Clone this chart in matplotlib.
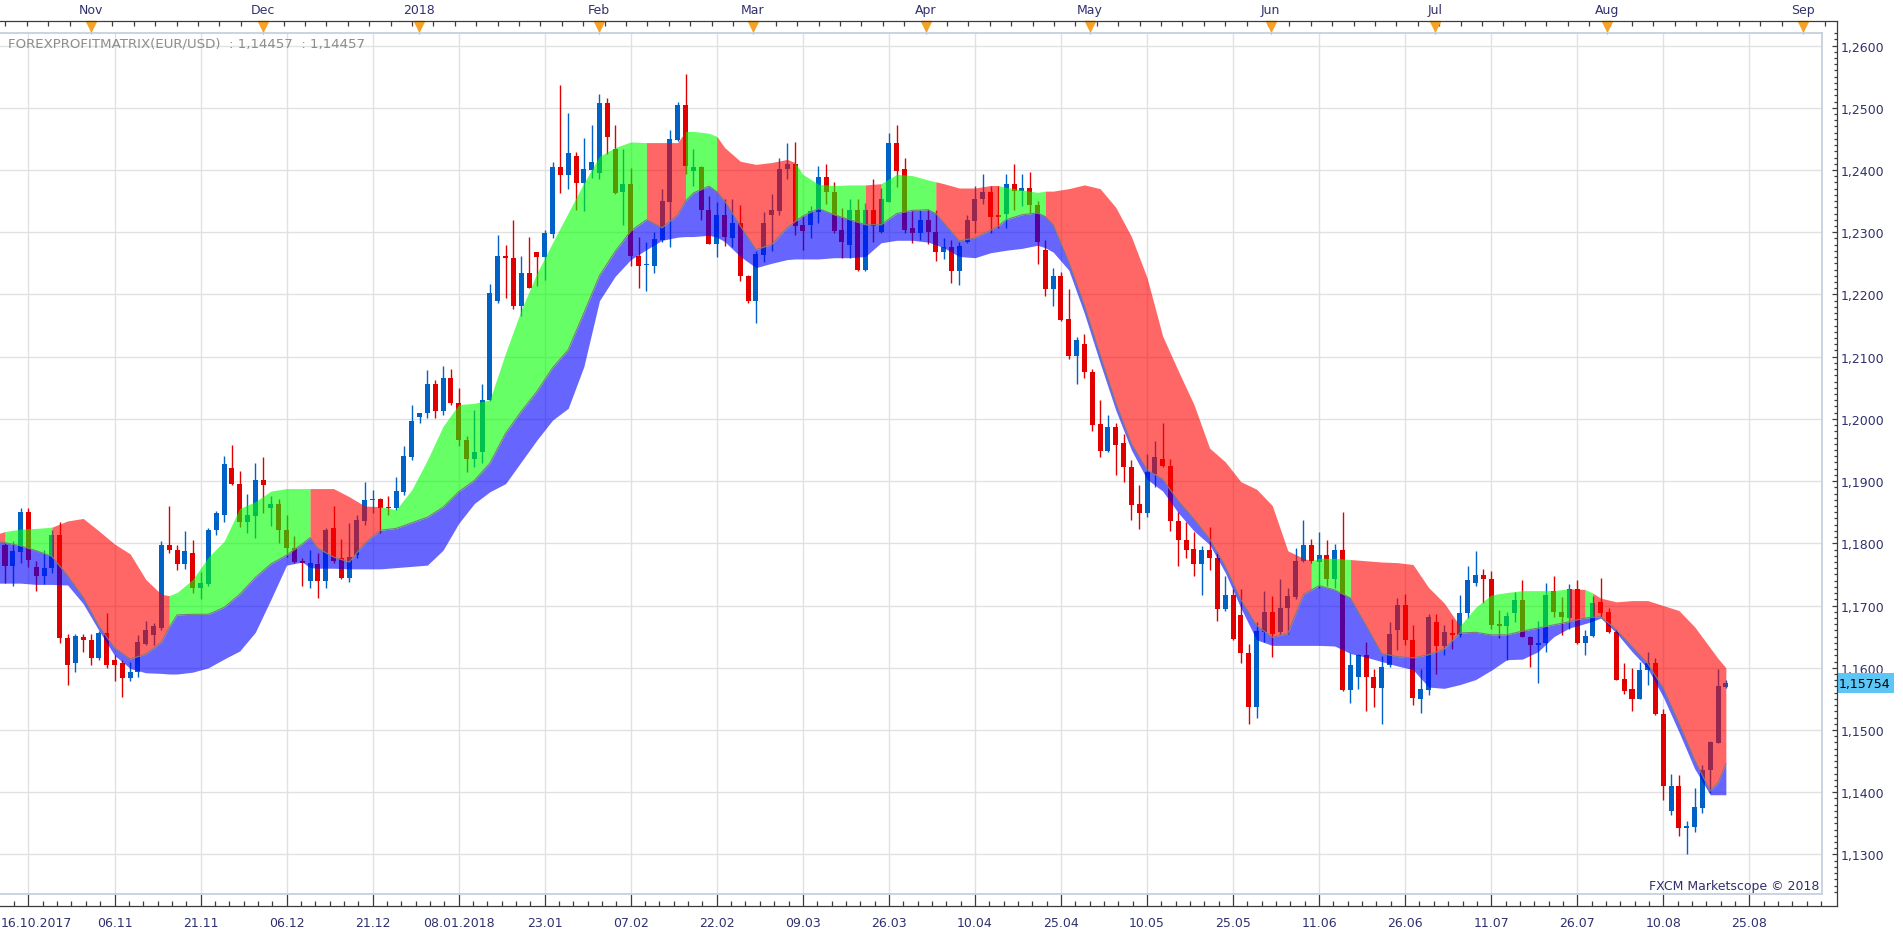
import numpy as np
import matplotlib
matplotlib.use("Agg")
import matplotlib.pyplot as plt
from matplotlib.ticker import MultipleLocator, FuncFormatter
from matplotlib.patches import Rectangle

plt.rcParams['font.family'] = ['DejaVu Sans']

# ------------------------------------------------------------------ data
# daily EUR/USD candles, bar 0 = 17.10.2017 ... bar 220 = 22.08.2018
opens = [
    1.1798, 1.1763, 1.1786, 1.1850, 1.1762, 1.1747, 1.1761, 1.1813, 1.1648, 1.1608,
    1.1650, 1.1645, 1.1616, 1.1656, 1.1613, 1.1607, 1.1583, 1.1593, 1.1639, 1.1653,
    1.1664, 1.1797, 1.1790, 1.1766, 1.1784, 1.1729, 1.1735, 1.1821, 1.1846, 1.1921,
    1.1896, 1.1835, 1.1844, 1.1902, 1.1857, 1.1863, 1.1822, 1.1793, 1.1772, 1.1739,
    1.1767, 1.1739, 1.1825, 1.1777, 1.1744, 1.1781, 1.1836, 1.1869, 1.1872, 1.1857,
    1.1856, 1.1883, 1.1939, 1.2003, 1.2009, 1.2056, 1.2012, 1.2065, 1.2025, 1.1966,
    1.1935, 1.1946, 1.2031, 1.2190, 1.2262, 1.2259, 1.2182, 1.2234, 1.2268, 1.2260,
    1.2297, 1.2405, 1.2392, 1.2423, 1.2379, 1.2400, 1.2395, 1.2507, 1.2434, 1.2364,
    1.2377, 1.2262, 1.2247, 1.2245, 1.2288, 1.2348, 1.2448, 1.2505, 1.2398, 1.2405,
    1.2336, 1.2281, 1.2328, 1.2291, 1.2315, 1.2230, 1.2190, 1.2264, 1.2327, 1.2334,
    1.2401, 1.2410, 1.2311, 1.2311, 1.2332, 1.2388, 1.2365, 1.2303, 1.2279, 1.2335,
    1.2239, 1.2336, 1.2300, 1.2348, 1.2443, 1.2401, 1.2306, 1.2298, 1.2319, 1.2300,
    1.2268, 1.2277, 1.2237, 1.2284, 1.2318, 1.2354, 1.2365, 1.2327, 1.2330, 1.2378,
    1.2366, 1.2371, 1.2344, 1.2272, 1.2208, 1.2230, 1.2160, 1.2101, 1.2121, 1.2075,
    1.1992, 1.1948, 1.1987, 1.1962, 1.1922, 1.1863, 1.1849, 1.1912, 1.1936, 1.1925,
    1.1836, 1.1806, 1.1791, 1.1767, 1.1790, 1.1777, 1.1694, 1.1717, 1.1685, 1.1623,
    1.1537, 1.1658, 1.1690, 1.1657, 1.1696, 1.1714, 1.1772, 1.1797, 1.1770, 1.1781,
    1.1743, 1.1790, 1.1565, 1.1585, 1.1621, 1.1586, 1.1567, 1.1604, 1.1660, 1.1701,
    1.1645, 1.1550, 1.1565, 1.1674, 1.1635, 1.1656, 1.1653, 1.1688, 1.1737, 1.1749,
    1.1743, 1.1671, 1.1667, 1.1688, 1.1709, 1.1650, 1.1636, 1.1640, 1.1724, 1.1690,
    1.1680, 1.1726, 1.1640, 1.1651, 1.1705, 1.1690, 1.1657, 1.1582, 1.1566, 1.1550,
    1.1596, 1.1607, 1.1526, 1.1370, 1.1410, 1.1343, 1.1344, 1.1375, 1.1435, 1.1479,
    1.1569,
]
highs = [
    1.1801, 1.1804, 1.1856, 1.1856, 1.1771, 1.1790, 1.1822, 1.1835, 1.1655, 1.1655,
    1.1655, 1.1655, 1.1659, 1.1688, 1.1621, 1.1613, 1.1609, 1.1652, 1.1676, 1.1672,
    1.1804, 1.1860, 1.1798, 1.1820, 1.1806, 1.1754, 1.1824, 1.1852, 1.1941, 1.1958,
    1.1916, 1.1879, 1.1929, 1.1938, 1.1876, 1.1872, 1.1846, 1.1812, 1.1776, 1.1790,
    1.1784, 1.1825, 1.1860, 1.1807, 1.1833, 1.1846, 1.1898, 1.1886, 1.1873, 1.1876,
    1.1907, 1.1957, 1.2023, 1.2009, 1.2079, 1.2063, 1.2085, 1.2080, 1.2049, 1.1973,
    1.2015, 1.2056, 1.2216, 1.2295, 1.2280, 1.2320, 1.2262, 1.2293, 1.2268, 1.2303,
    1.2412, 1.2536, 1.2491, 1.2429, 1.2452, 1.2473, 1.2522, 1.2516, 1.2473, 1.2433,
    1.2403, 1.2293, 1.2284, 1.2300, 1.2370, 1.2464, 1.2509, 1.2554, 1.2433, 1.2406,
    1.2358, 1.2349, 1.2353, 1.2353, 1.2344, 1.2232, 1.2269, 1.2333, 1.2362, 1.2419,
    1.2443, 1.2445, 1.2326, 1.2342, 1.2406, 1.2410, 1.2381, 1.2339, 1.2353, 1.2353,
    1.2347, 1.2386, 1.2371, 1.2459, 1.2473, 1.2419, 1.2334, 1.2335, 1.2337, 1.2336,
    1.2290, 1.2287, 1.2285, 1.2328, 1.2374, 1.2394, 1.2375, 1.2374, 1.2393, 1.2410,
    1.2394, 1.2397, 1.2350, 1.2287, 1.2242, 1.2236, 1.2209, 1.2131, 1.2136, 1.2080,
    1.2030, 1.2007, 1.1993, 1.1976, 1.1934, 1.1894, 1.1944, 1.1965, 1.1993, 1.1936,
    1.1851, 1.1835, 1.1818, 1.1795, 1.1826, 1.1786, 1.1748, 1.1726, 1.1726, 1.1638,
    1.1674, 1.1723, 1.1716, 1.1742, 1.1729, 1.1793, 1.1837, 1.1807, 1.1818, 1.1805,
    1.1799, 1.1850, 1.1624, 1.1622, 1.1642, 1.1598, 1.1619, 1.1673, 1.1712, 1.1718,
    1.1669, 1.1598, 1.1687, 1.1687, 1.1669, 1.1679, 1.1717, 1.1764, 1.1788, 1.1758,
    1.1756, 1.1693, 1.1689, 1.1722, 1.1741, 1.1651, 1.1675, 1.1736, 1.1748, 1.1714,
    1.1735, 1.1741, 1.1661, 1.1716, 1.1744, 1.1696, 1.1663, 1.1607, 1.1599, 1.1609,
    1.1625, 1.1616, 1.1534, 1.1430, 1.1427, 1.1354, 1.1407, 1.1443, 1.1483, 1.1598,
    1.1580,
]
lows = [
    1.1737, 1.1731, 1.1769, 1.1762, 1.1724, 1.1734, 1.1753, 1.1640, 1.1573, 1.1593,
    1.1625, 1.1605, 1.1613, 1.1599, 1.1579, 1.1553, 1.1578, 1.1585, 1.1636, 1.1636,
    1.1660, 1.1785, 1.1757, 1.1759, 1.1721, 1.1711, 1.1731, 1.1813, 1.1835, 1.1894,
    1.1826, 1.1816, 1.1808, 1.1849, 1.1828, 1.1800, 1.1778, 1.1768, 1.1731, 1.1729,
    1.1712, 1.1729, 1.1769, 1.1742, 1.1738, 1.1776, 1.1829, 1.1848, 1.1816, 1.1846,
    1.1854, 1.1878, 1.1934, 1.1993, 1.2001, 1.2001, 1.2006, 1.2023, 1.1956, 1.1914,
    1.1922, 1.1929, 1.2028, 1.2186, 1.2195, 1.2177, 1.2165, 1.2211, 1.2213, 1.2223,
    1.2291, 1.2363, 1.2369, 1.2336, 1.2334, 1.2387, 1.2385, 1.2425, 1.2362, 1.2312,
    1.2245, 1.2211, 1.2205, 1.2234, 1.2285, 1.2276, 1.2446, 1.2393, 1.2374, 1.2320,
    1.2281, 1.2260, 1.2278, 1.2276, 1.2221, 1.2187, 1.2154, 1.2252, 1.2269, 1.2328,
    1.2386, 1.2296, 1.2272, 1.2290, 1.2314, 1.2346, 1.2299, 1.2259, 1.2259, 1.2238,
    1.2238, 1.2285, 1.2299, 1.2348, 1.2372, 1.2299, 1.2283, 1.2288, 1.2281, 1.2253,
    1.2257, 1.2218, 1.2215, 1.2283, 1.2299, 1.2346, 1.2299, 1.2306, 1.2307, 1.2335,
    1.2342, 1.2331, 1.2249, 1.2198, 1.2182, 1.2158, 1.2096, 1.2056, 1.2065, 1.1981,
    1.1938, 1.1947, 1.1910, 1.1898, 1.1838, 1.1823, 1.1842, 1.1890, 1.1923, 1.1820,
    1.1763, 1.1776, 1.1748, 1.1717, 1.1757, 1.1675, 1.1691, 1.1645, 1.1608, 1.1510,
    1.1520, 1.1641, 1.1618, 1.1655, 1.1655, 1.1710, 1.1770, 1.1769, 1.1728, 1.1732,
    1.1728, 1.1563, 1.1544, 1.1566, 1.1531, 1.1537, 1.1509, 1.1601, 1.1629, 1.1636,
    1.1540, 1.1527, 1.1557, 1.1590, 1.1620, 1.1630, 1.1649, 1.1680, 1.1732, 1.1704,
    1.1663, 1.1648, 1.1612, 1.1674, 1.1649, 1.1601, 1.1575, 1.1625, 1.1682, 1.1653,
    1.1663, 1.1639, 1.1620, 1.1650, 1.1681, 1.1656, 1.1580, 1.1558, 1.1530, 1.1550,
    1.1572, 1.1524, 1.1387, 1.1364, 1.1329, 1.1301, 1.1336, 1.1367, 1.1399, 1.1479,
    1.1567,
]
closes = [
    1.1763, 1.1787, 1.1850, 1.1774, 1.1747, 1.1761, 1.1813, 1.1648, 1.1604, 1.1651,
    1.1644, 1.1616, 1.1656, 1.1605, 1.1605, 1.1583, 1.1593, 1.1641, 1.1661, 1.1667,
    1.1797, 1.1789, 1.1766, 1.1787, 1.1729, 1.1736, 1.1822, 1.1848, 1.1928, 1.1895,
    1.1835, 1.1846, 1.1902, 1.1893, 1.1863, 1.1821, 1.1793, 1.1770, 1.1768, 1.1769,
    1.1739, 1.1822, 1.1771, 1.1744, 1.1778, 1.1837, 1.1870, 1.1872, 1.1856, 1.1856,
    1.1884, 1.1940, 1.1997, 1.2009, 1.2056, 1.2012, 1.2065, 1.2025, 1.1966, 1.1935,
    1.1946, 1.2031, 1.2202, 1.2262, 1.2258, 1.2182, 1.2234, 1.2211, 1.2260, 1.2298,
    1.2405, 1.2392, 1.2428, 1.2379, 1.2401, 1.2412, 1.2507, 1.2453, 1.2363, 1.2377,
    1.2261, 1.2245, 1.2248, 1.2289, 1.2350, 1.2449, 1.2505, 1.2407, 1.2405, 1.2336,
    1.2281, 1.2328, 1.2292, 1.2315, 1.2229, 1.2190, 1.2265, 1.2315, 1.2335, 1.2402,
    1.2410, 1.2310, 1.2302, 1.2334, 1.2388, 1.2364, 1.2302, 1.2285, 1.2335, 1.2239,
    1.2336, 1.2310, 1.2353, 1.2443, 1.2399, 1.2304, 1.2298, 1.2320, 1.2300, 1.2268,
    1.2276, 1.2237, 1.2278, 1.2319, 1.2354, 1.2365, 1.2324, 1.2324, 1.2378, 1.2366,
    1.2371, 1.2344, 1.2284, 1.2208, 1.2230, 1.2159, 1.2101, 1.2126, 1.2075, 1.1990,
    1.1948, 1.1987, 1.1958, 1.1922, 1.1861, 1.1849, 1.1914, 1.1938, 1.1924, 1.1836,
    1.1805, 1.1790, 1.1767, 1.1790, 1.1776, 1.1694, 1.1717, 1.1647, 1.1623, 1.1537,
    1.1659, 1.1690, 1.1655, 1.1696, 1.1716, 1.1772, 1.1797, 1.1772, 1.1781, 1.1743,
    1.1790, 1.1565, 1.1605, 1.1621, 1.1585, 1.1567, 1.1602, 1.1654, 1.1701, 1.1645,
    1.1551, 1.1566, 1.1681, 1.1635, 1.1657, 1.1653, 1.1688, 1.1741, 1.1749, 1.1742,
    1.1669, 1.1667, 1.1683, 1.1709, 1.1649, 1.1636, 1.1640, 1.1717, 1.1689, 1.1681,
    1.1726, 1.1640, 1.1651, 1.1704, 1.1688, 1.1657, 1.1581, 1.1563, 1.1550, 1.1597,
    1.1607, 1.1525, 1.1410, 1.1410, 1.1343, 1.1345, 1.1376, 1.1435, 1.1480, 1.1570,
    1.15754,
]

# FOREXPROFITMATRIX indicator: upper line, middle (grey) line, lower line
band_x = [
    -1, 0, 2, 4, 6, 8, 10, 12, 14, 16,
    18, 20, 21, 22, 24, 26, 28, 30, 32, 34,
    36, 38, 39, 40, 42, 44, 46, 48, 50, 52,
    54, 56, 58, 60, 62, 64, 66, 68, 70, 72,
    74, 76, 78, 80, 82, 84, 86, 87, 88, 90,
    91, 92, 94, 96, 98, 100, 101, 102, 104, 106,
    108, 110, 112, 114, 116, 118, 119, 120, 122, 124,
    126, 127, 128, 130, 132, 133, 134, 136, 138, 140,
    142, 144, 146, 148, 150, 152, 154, 156, 158, 160,
    162, 164, 166, 167, 168, 170, 172, 174, 176, 178,
    180, 182, 184, 186, 188, 190, 192, 194, 196, 198,
    200, 202, 203, 204, 206, 208, 210, 212, 214, 216,
    218, 219, 220,
]
band_upper = [
    1.1815, 1.1819, 1.1823, 1.1824, 1.1826, 1.1836, 1.1840, 1.1820, 1.1799, 1.1783,
    1.1742, 1.1718, 1.1716, 1.1721, 1.1742, 1.1778, 1.1803, 1.1856, 1.1867, 1.1884,
    1.1888, 1.1888, 1.1888, 1.1888, 1.1888, 1.1875, 1.1860, 1.1859, 1.1854, 1.1886,
    1.1934, 1.1988, 1.2023, 1.2025, 1.2031, 1.2106, 1.2175, 1.2234, 1.2283, 1.2331,
    1.2379, 1.2422, 1.2436, 1.2445, 1.2444, 1.2444, 1.2444, 1.2462, 1.2462, 1.2459,
    1.2454, 1.2436, 1.2414, 1.2409, 1.2412, 1.2417, 1.2412, 1.2393, 1.2377, 1.2375,
    1.2376, 1.2376, 1.2378, 1.2393, 1.2391, 1.2384, 1.2381, 1.2378, 1.2371, 1.2371,
    1.2375, 1.2375, 1.2372, 1.2368, 1.2364, 1.2366, 1.2366, 1.2370, 1.2376, 1.2370,
    1.2340, 1.2293, 1.2227, 1.2133, 1.2077, 1.2023, 1.1953, 1.1931, 1.1899, 1.1887,
    1.1861, 1.1788, 1.1776, 1.1772, 1.1776, 1.1776, 1.1774, 1.1772, 1.1770, 1.1769,
    1.1766, 1.1729, 1.1704, 1.1667, 1.1697, 1.1717, 1.1721, 1.1724, 1.1724, 1.1724,
    1.1727, 1.1726, 1.1720, 1.1712, 1.1706, 1.1708, 1.1708, 1.1700, 1.1692, 1.1666,
    1.1632, 1.1615, 1.1600,
]
band_mid = [
    1.1803, 1.1801, 1.1796, 1.1788, 1.1779, 1.1748, 1.1713, 1.1667, 1.1632, 1.1614,
    1.1622, 1.1641, 1.1665, 1.1685, 1.1686, 1.1686, 1.1697, 1.1718, 1.1745, 1.1767,
    1.1781, 1.1799, 1.1809, 1.1792, 1.1778, 1.1770, 1.1800, 1.1821, 1.1824, 1.1833,
    1.1842, 1.1858, 1.1883, 1.1901, 1.1929, 1.1977, 1.2012, 1.2044, 1.2082, 1.2111,
    1.2170, 1.2230, 1.2269, 1.2302, 1.2320, 1.2307, 1.2328, 1.2350, 1.2363, 1.2374,
    1.2365, 1.2350, 1.2310, 1.2272, 1.2280, 1.2307, 1.2317, 1.2326, 1.2338, 1.2328,
    1.2320, 1.2312, 1.2312, 1.2330, 1.2335, 1.2336, 1.2330, 1.2315, 1.2286, 1.2291,
    1.2303, 1.2310, 1.2320, 1.2328, 1.2331, 1.2325, 1.2312, 1.2252, 1.2182, 1.2103,
    1.2026, 1.1960, 1.1918, 1.1903, 1.1868, 1.1839, 1.1807, 1.1763, 1.1709, 1.1668,
    1.1649, 1.1655, 1.1718, 1.1725, 1.1732, 1.1725, 1.1712, 1.1668, 1.1623, 1.1618,
    1.1616, 1.1621, 1.1630, 1.1656, 1.1657, 1.1653, 1.1653, 1.1659, 1.1664, 1.1669,
    1.1674, 1.1680, 1.1681, 1.1682, 1.1661, 1.1634, 1.1607, 1.1567, 1.1511, 1.1452,
    1.1402, 1.1415, 1.14457,
]
band_lower = [
    1.1736, 1.1736, 1.1736, 1.1734, 1.1734, 1.1733, 1.1703, 1.1660, 1.1620, 1.1599,
    1.1592, 1.1591, 1.1590, 1.1590, 1.1593, 1.1600, 1.1614, 1.1627, 1.1657, 1.1710,
    1.1765, 1.1770, 1.1761, 1.1760, 1.1760, 1.1759, 1.1759, 1.1759, 1.1761, 1.1763,
    1.1765, 1.1789, 1.1832, 1.1864, 1.1883, 1.1896, 1.1931, 1.1966, 1.1998, 1.2017,
    1.2084, 1.2190, 1.2229, 1.2256, 1.2272, 1.2287, 1.2292, 1.2293, 1.2293, 1.2295,
    1.2292, 1.2285, 1.2261, 1.2243, 1.2250, 1.2256, 1.2257, 1.2257, 1.2257, 1.2259,
    1.2259, 1.2261, 1.2283, 1.2287, 1.2287, 1.2284, 1.2280, 1.2275, 1.2261, 1.2259,
    1.2267, 1.2269, 1.2271, 1.2274, 1.2279, 1.2275, 1.2268, 1.2239, 1.2169, 1.2090,
    1.2014, 1.1950, 1.1903, 1.1884, 1.1849, 1.1820, 1.1798, 1.1753, 1.1696, 1.1645,
    1.1636, 1.1636, 1.1636, 1.1636, 1.1636, 1.1635, 1.1623, 1.1617, 1.1610, 1.1603,
    1.1597, 1.1569, 1.1567, 1.1573, 1.1581, 1.1596, 1.1613, 1.1614, 1.1626, 1.1650,
    1.1664, 1.1671, 1.1675, 1.1680, 1.1656, 1.1626, 1.1599, 1.1553, 1.1497, 1.1438,
    1.1396, 1.1396, 1.1396,
]
# colour of the upper band: (trend, first bar, last bar)
band_segments = [
    ("down", -1, 0), ("up", 0, 6), ("down", 6, 21), ("up", 21, 39),
    ("down", 39, 48), ("up", 48, 82), ("down", 82, 87), ("up", 87, 91),
    ("down", 91, 101), ("up", 101, 110), ("down", 110, 112), ("up", 112, 119),
    ("down", 119, 127), ("up", 127, 133), ("down", 133, 167), ("up", 167, 172),
    ("down", 172, 186), ("up", 186, 200), ("down", 200, 202), ("up", 202, 203),
    ("down", 203, 220),
]

month_pos = [11, 33, 52.9, 75.95, 95.6, 117.7, 138.7, 161.8, 182.8, 204.8, 229.9]
month_labels = ["Nov", "Dec", "2018", "Feb", "Mar", "Apr", "May", "Jun", "Jul", "Aug", "Sep"]

date_grid_pos = [3 + 11 * k for k in range(21)]
date_labels = ["", "06.11", "21.11", "06.12", "21.12", "08.01.2018", "23.01", "07.02",
               "22.02", "09.03", "26.03", "10.04", "25.04", "10.05", "25.05", "11.06",
               "26.06", "11.07", "26.07", "10.08", "25.08"]
first_date_label = "16.10.2017"

price_ticks = [1.13, 1.14, 1.15, 1.16, 1.17, 1.18, 1.19, 1.20, 1.21, 1.22,
               1.23, 1.24, 1.25, 1.26]
indicator_name = "FOREXPROFITMATRIX(EUR/USD)"
copyright_text = "FXCM Marketscope \u00a9 2018"

# ------------------------------------------------------------------ style
W, H = 1903, 937
AX_L, AX_R, AX_T, AX_B = 0, 1822, 34, 895
XLIM = (-0.639, 232.29)
YLIM = (1.12365, 1.26201)
NAVY = "#30306E"
AXC = "#3C3C3C"
UP_C = "#0062C6"
DN_C = "#E00000"
BAND_C = {"up": "#00FF00", "down": "#FF0000"}
FS = 9

fig = plt.figure(figsize=(W / 100, H / 100), dpi=100)
fig.patch.set_facecolor("white")
ax = fig.add_axes([AX_L / W, 1 - AX_B / H, (AX_R - AX_L) / W, (AX_B - AX_T) / H])
ax.set_xlim(*XLIM)
ax.set_ylim(*YLIM)
ax.set_facecolor("white")

# grid + ticks
ax.set_xticks(date_grid_pos)
ax.set_xticklabels(date_labels)
ax.set_xticks(np.arange(3 - 11 / 6, XLIM[1], 11 / 6), minor=True)
ax.set_yticks(price_ticks)
ax.yaxis.set_minor_locator(MultipleLocator(0.001))
ax.yaxis.set_major_formatter(FuncFormatter(lambda v, p: f"{v:.4f}".replace(".", ",")))
ax.grid(True, which="major", color="#E1E1E1", linewidth=1.0)
ax.set_axisbelow(True)

for s in ax.spines.values():
    s.set_visible(False)
ax.spines["right"].set_position(("outward", 15 * 0.72))
ax.spines["bottom"].set_position(("outward", 12 * 0.72))
ax.yaxis.set_ticks_position("right")
ax.xaxis.set_ticks_position("bottom")
ax.tick_params(axis="y", which="major", direction="in", length=5 * 0.72, width=0.9,
               color=AXC, pad=3, labelsize=FS, labelcolor=NAVY)
ax.tick_params(axis="y", which="minor", direction="in", length=3 * 0.72, width=0.9, color=AXC)
ax.tick_params(axis="x", which="major", direction="in", length=12 * 0.72, width=0.9,
               color=AXC, pad=7.5, labelsize=FS, labelcolor=NAVY)
ax.tick_params(axis="x", which="minor", direction="in", length=5 * 0.72, width=0.9, color=AXC)

# candles
idx = np.arange(len(opens))
o, hi, lo, c = (np.array(a) for a in (opens, highs, lows, closes))
up = c >= o
cols = np.where(up, UP_C, DN_C)
ax.vlines(idx, lo, hi, colors=cols, linewidth=1.0, zorder=2)
body_lo = np.minimum(o, c)
body_h = np.maximum(np.abs(c - o), 0.00017)
ax.bar(idx, body_h, bottom=body_lo, width=0.64, color=cols, linewidth=0, zorder=2.1)

# indicator bands (semi-transparent, over the candles)
bx = np.array(band_x, dtype=float)
bu = np.array(band_upper)
bm = np.array(band_mid)
bl = np.array(band_lower)
ax.fill_between(bx, bl, bm, color="#0000FF", alpha=0.6, linewidth=0, antialiased=False, zorder=3)
for trend, a, b in band_segments:
    sel = (bx >= a) & (bx <= b)
    ax.fill_between(bx[sel], bm[sel], bu[sel], color=BAND_C[trend], alpha=0.6,
                    linewidth=0, antialiased=False, zorder=3)
ax.plot(bx, bm, color="#7C7C7C", linewidth=0.8, zorder=4)

# top (month) axis
tr = ax.get_xaxis_transform()


def fy(px):
    return 1 - (px - AX_T) / (AX_B - AX_T)


top_minor = np.arange(0.05, 234.0, 2.736)
ax.vlines(top_minor, fy(22), fy(27), transform=tr, colors=AXC, linewidth=0.9, clip_on=False)
ax.vlines(month_pos, fy(22), fy(35), transform=tr, colors="#9A9A9A", linewidth=0.9, clip_on=False)
ax.plot(month_pos, [fy(26.5)] * len(month_pos), ls="none", marker="v", ms=7.2,
        color="#F6A325", mec="#F6A325", transform=tr, clip_on=False, zorder=6)
for xm, lab in zip(month_pos, month_labels):
    ax.text(xm, fy(10.5), lab, transform=tr, ha="center", va="center", fontsize=FS, color=NAVY)

# overlay in pixel coordinates for frame and axis lines
ov = fig.add_axes([0, 0, 1, 1], zorder=5)
ov.set_xlim(0, W)
ov.set_ylim(H, 0)
ov.axis("off")
ov.patch.set_visible(False)
frame_c = "#C6D0DD"
ov.plot([0, AX_R], [AX_T, AX_T], color=frame_c, lw=1.3)
ov.plot([AX_R, AX_R], [AX_T, AX_B], color=frame_c, lw=1.3)
ov.plot([0, AX_R], [AX_B, AX_B], color=frame_c, lw=1.3)
ov.plot([0, 1837], [22, 22], color=AXC, lw=0.9)
ov.plot([1837, 1837], [22, 907], color=AXC, lw=0.9)
ov.plot([0, 1837], [907, 907], color=AXC, lw=0.9)

# current price marker
last = closes[-1]
y_pix = H - ax.transData.transform((0, last))[1]
ov.add_patch(Rectangle((1837.5, y_pix - 10), 56, 20, facecolor="#5CC7F6", edgecolor="none"))
ov.text(1839, y_pix, f"{last:.5f}".replace(".", ","), ha="left", va="center",
        fontsize=FS, color="black")

ind_val = f"{band_mid[-1]:.5f}".replace(".", ",")
ov.text(8, 44, f"{indicator_name}  : {ind_val}  : {ind_val}", ha="left", va="center",
        fontsize=9.6, color="#8C8C8C")
ov.text(1819, 887, copyright_text, ha="right", va="center", fontsize=FS, color=NAVY)
ov.text(1, 924, first_date_label, ha="left", va="center", fontsize=FS, color=NAVY)

fig.savefig("out.png", dpi=100)
